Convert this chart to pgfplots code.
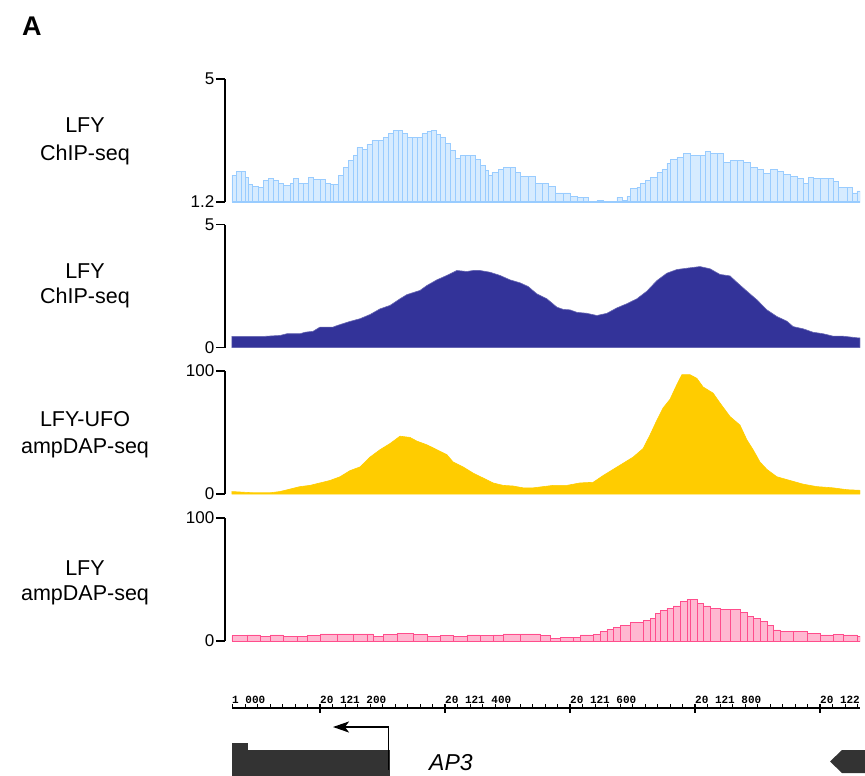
\documentclass[border=0pt]{standalone}
\usepackage{fontspec}
\setmainfont{Liberation Sans}
\setmonofont{Liberation Mono}
\usepackage{pgfplots}
\pgfplotsset{compat=1.18}
\usepackage{pgfplotstable}
\usetikzlibrary{arrows.meta}

\definecolor{lblue}{RGB}{153,204,255}
\definecolor{navy}{RGB}{51,51,153}
\definecolor{gold}{RGB}{255,204,0}
\definecolor{pinkc}{RGB}{255,77,140}
\definecolor{gene}{RGB}{51,51,51}

% positions are bp - 20 121 000
\pgfplotstableread{
x y
59 2.03
66 2.15
74 2.15
80 1.97
85 1.75
91 1.69
101 1.66
110 1.87
117 1.94
126 1.87
134 1.78
142 1.72
152 1.78
158 1.94
165 1.78
173 1.78
181 1.97
190 1.90
200 1.90
208 1.78
216 1.75
222 1.75
229 2.03
237 2.27
245 2.49
253 2.64
259 2.89
267 2.82
275 2.98
283 3.10
293 3.10
301 3.19
309 3.31
317 3.41
325 3.41
331 3.31
339 3.19
347 3.19
355 3.19
363 3.31
371 3.38
378 3.41
386 3.28
392 3.19
400 3.01
408 2.79
416 2.55
424 2.64
432 2.64
440 2.64
448 2.52
456 2.33
464 2.18
469 2.03
475 2.12
485 2.21
493 2.27
504 2.27
512 2.12
520 2.00
533 2.00
544 1.78
555 1.78
565 1.69
576 1.48
589 1.48
600 1.38
611 1.35
621 1.35
629 1.19
643 1.26
653 1.23
669 1.23
675 1.35
683 1.26
691 1.38
696 1.63
707 1.66
712 1.78
720 1.87
728 1.97
739 2.12
747 2.21
755 2.40
760 2.52
771 2.58
781 2.70
792 2.64
808 2.64
816 2.76
824 2.70
835 2.70
845 2.43
856 2.49
867 2.49
877 2.43
888 2.27
899 2.21
909 2.09
920 2.21
931 2.15
941 2.06
952 2.00
963 1.94
973 1.78
981 1.97
989 1.94
1000 1.94
1013 1.94
1021 1.84
1029 1.66
1043 1.66
1051 1.48
1059 1.54
1064 1.54
}\tA

\pgfplotstableread{
x y
59 0.45
83 0.45
109 0.45
136 0.49
147 0.56
168 0.56
176 0.62
189 0.66
200 0.83
221 0.83
227 0.89
248 1.06
264 1.17
280 1.34
296 1.57
312 1.71
328 1.98
339 2.15
360 2.32
371 2.52
387 2.75
403 2.93
419 3.13
435 3.09
445 3.13
456 3.13
472 3.06
488 2.93
504 2.75
520 2.63
533 2.48
547 2.18
563 1.98
579 1.64
589 1.55
600 1.53
611 1.43
627 1.39
643 1.30
659 1.39
675 1.61
691 1.78
707 1.98
723 2.29
739 2.72
755 3.02
771 3.17
792 3.24
808 3.29
824 3.20
840 2.97
856 2.91
867 2.65
883 2.29
899 1.94
915 1.53
931 1.26
947 1.07
957 0.85
973 0.76
989 0.62
1005 0.56
1021 0.46
1037 0.46
1061 0.39
1064 0.39
}\tB

\pgfplotstableread{
x y
59 2
93 1
120 1
136 2
152 4
168 6
184 7
200 9
216 11
232 14
248 19
264 22
280 30
296 36
312 41
328 47
344 46
355 43
371 40
387 36
403 32
413 26
429 22
445 17
461 13
477 9
493 7
509 6.5
525 5
541 5
557 6
573 7
595 7
616 9
637 9.5
653 15
669 20
685 25
701 30
717 37
728 48
739 60
749 70
760 77
771 89
779 97
792 97
803 94
813 87
829 82
840 74
856 63
872 56
883 44
893 36
904 26
915 20
931 14
952 11
973 8
995 6
1021 5
1043 3.5
1064 3
}\tC

\pgfplotstableread{
x y
59 4.3
83 5
104 4
120 5
141 4
163 4
179 4.3
200 5.7
227 5.7
253 5.7
275 5.7
285 4
301 5.3
323 6.2
349 5.3
371 4
392 4.3
413 4
435 5
456 4.3
477 5
493 5.7
520 5.7
552 4.5
568 2.2
584 2.7
605 2.7
616 4.9
637 5.5
648 7.6
659 9.5
669 11
680 13
696 15
717 16.5
728 18.5
736 22.6
744 25
755 26.7
765 28.5
776 32
787 33.5
792 34
803 30.8
813 28.5
824 26.7
840 25.9
856 25.9
872 23
883 19.8
893 18.5
904 15.8
915 13
925 9
936 7.6
957 7.6
979 6.3
1000 4.9
1021 5.5
1037 4.9
1059 4
1064 4
}\tD

\pgfplotsset{
  track/.style={
    scale only axis, width=635pt, height=123pt,
    anchor=south west,
    xmin=48, xmax=1064,
    axis x line=none, axis y line*=left,
    y axis line style={line width=1.6pt, black},
    tick style={line width=1.6pt, black},
    tick align=outside, major tick length=9pt,
    yticklabel style={font=\fontsize{17}{17}\selectfont, inner sep=1.5pt},
    /pgf/number format/assume math mode=true,
  }
}

\begin{document}
\begin{tikzpicture}
\useasboundingbox (0,0) rectangle (865pt,-776pt);

\node[anchor=base west, inner sep=0pt, font=\bfseries\fontsize{27}{27}\selectfont] at (22pt,-35.5pt) {A};

% track labels
\begin{scope}[every node/.style={anchor=base, inner sep=0pt, font=\fontsize{21.5}{21.5}\selectfont}]
\node at (85pt,-132pt) {LFY};
\node at (85pt,-160pt) {ChIP-seq};
\node at (85pt,-278pt) {LFY};
\node at (85pt,-303pt) {ChIP-seq};
\node at (85pt,-426pt) {LFY-UFO};
\node at (85pt,-453pt) {ampDAP-seq};
\node at (85pt,-575pt) {LFY};
\node at (85pt,-600pt) {ampDAP-seq};
\end{scope}

% track 1
\begin{axis}[track, at={(225pt,-202pt)}, ymin=1.2, ymax=5, ytick={1.2,5}, yticklabels={1.2,5}]
\addplot[ybar interval, draw=lblue, fill=lblue!40, line width=0.7pt] table {\tA};
\draw[lblue, line width=1.2pt] (axis cs:59,1.2) -- (axis cs:1064,1.2);
\end{axis}

% track 2
\begin{axis}[track, at={(225pt,-347.5pt)}, ymin=0, ymax=5, ytick={0,5}, yticklabels={0,5}]
\addplot[fill=navy, draw=navy!75, line width=0.6pt] table {\tB} \closedcycle;
\end{axis}

% track 3
\begin{axis}[track, at={(225pt,-494pt)}, ymin=0, ymax=100, ytick={0,100}, yticklabels={0,100}]
\addplot[fill=gold, draw=gold, line width=0.6pt] table {\tC} \closedcycle;
\end{axis}

% track 4
\begin{axis}[track, at={(225pt,-641pt)}, ymin=0, ymax=100, ytick={0,100}, yticklabels={0,100}]
\addplot[ybar interval, draw=pinkc, fill=pinkc!40, line width=0.7pt] table {\tD};
\end{axis}

% ruler
\begin{axis}[scale only axis, width=628pt, height=10pt,
  at={(232pt,-708pt)}, anchor=north west,
  xmin=59.2, xmax=1064, ymin=0, ymax=1,
  axis y line=none, axis x line=top,
  x axis line style={-, line width=1.6pt, black},
  xtick={200,400,600,800,1000},
  xticklabels={20 121 200,20 121 400,20 121 600,20 121 800,{}},
  minor xtick={60,80,...,1060},
  tick align=outside, major tick length=9pt, minor tick length=4pt,
  major tick style={line width=1.4pt, black, yshift=-4.5pt},
  minor tick style={line width=0.7pt, black},
  xticklabel style={anchor=south west, font=\ttfamily\bfseries\fontsize{11}{11}\selectfont, inner sep=0pt, yshift=-5pt},
]
\end{axis}
\begin{scope}
\clip (232pt,-685pt) rectangle (860pt,-706pt);
\node[anchor=south west, inner sep=0pt, font=\ttfamily\bfseries\fontsize{11}{11}\selectfont] at (199pt,-704pt) {20 121 000};
\node[anchor=south west, inner sep=0pt, font=\ttfamily\bfseries\fontsize{11}{11}\selectfont] at (820pt,-704pt) {20 122 000};
\end{scope}

% gene model
\fill[gene] (232pt,-743pt) rectangle (248pt,-776pt);
\fill[gene] (247pt,-750pt) rectangle (390pt,-776pt);
\draw[black, line width=1.6pt, -{Stealth[length=16pt, width=11pt, inset=4pt]}] (388.5pt,-770pt) -- (388.5pt,-727pt) -- (333pt,-727pt);
\fill[gene] (830pt,-761.5pt) -- (842pt,-750pt) -- (865pt,-750pt) -- (865pt,-773pt) -- (842pt,-773pt) -- cycle;
\node[font=\itshape\fontsize{23}{23}\selectfont, anchor=base west, inner sep=0pt] at (429pt,-770pt) {AP3};
\end{tikzpicture}
\end{document}
